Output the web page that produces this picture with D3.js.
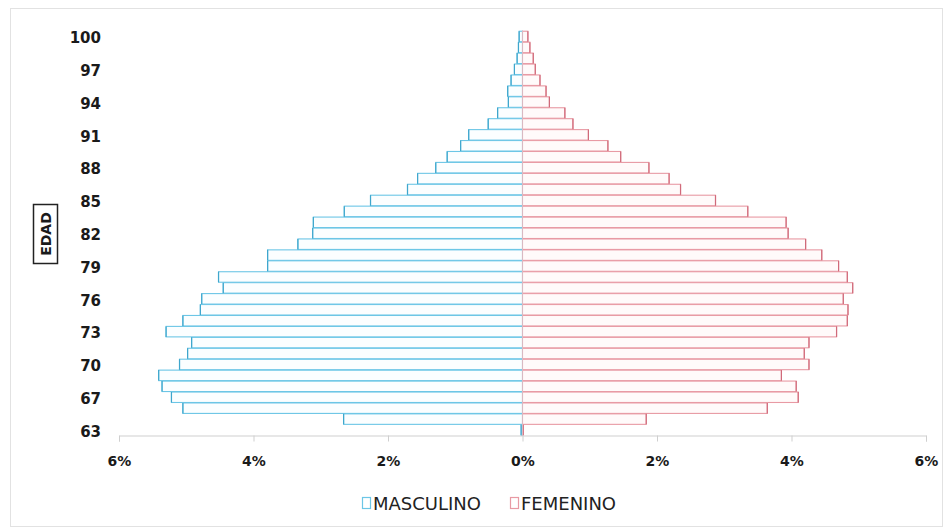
<!DOCTYPE html>
<html>
<head>
<meta charset="utf-8">
<script src="https://cdn.jsdelivr.net/npm/d3@7"></script>
<style>
  html, body { margin: 0; padding: 0; background: #ffffff; }
  svg { display: block; }
</style>
</head>
<body>
<svg id="chart" width="952" height="530"></svg>
<script>
// Age categories, bottom to top
const ages = ["63","65","66","67","68","69","70","71","72","73","74","75","76","77","78","79","80","81","82","83","84","85","86","87","88","89","90","91","92","93","94","95","96","97","98","99","100"];
// Percent of population, same order as ages
const masculino = [0.02,2.66,5.05,5.22,5.36,5.41,5.10,4.98,4.92,5.30,5.05,4.79,4.77,4.45,4.52,3.79,3.79,3.34,3.12,3.11,2.65,2.26,1.71,1.56,1.29,1.12,0.92,0.80,0.51,0.37,0.21,0.22,0.17,0.12,0.08,0.06,0.05];
const femenino  = [0.01,1.84,3.64,4.10,4.07,3.85,4.26,4.19,4.26,4.67,4.83,4.84,4.77,4.91,4.83,4.70,4.45,4.21,3.95,3.92,3.35,2.87,2.35,2.18,1.88,1.46,1.27,0.98,0.75,0.63,0.40,0.35,0.26,0.19,0.16,0.11,0.08];
const xTicks = [-6,-4,-2,0,2,4,6];
const yLabelAges = ["63","67","70","73","76","79","82","85","88","91","94","97","100"];
const seriesNames = ["MASCULINO","FEMENINO"];

const svg = d3.select("#chart");
const maleStroke = "#6cc6e6", femaleStroke = "#e89aa4";
const maleEdge = "#3fa6cc", femaleEdge = "#d06a7a";
const font = "'DejaVu Sans', Verdana, sans-serif";

// chart border
svg.append("rect").attr("x",10.5).attr("y",8.5).attr("width",932).attr("height",518)
  .attr("fill","none").attr("stroke","#e2e2e2").attr("stroke-width",1);

const x = d3.scaleLinear().domain([-6,6]).range([119,926]);
const y = d3.scaleBand().domain(ages.slice().reverse()).range([31,435.5]).paddingInner(0.04).paddingOuter(0.02);

const rows = ages.map((a,i)=>({age:a, m:masculino[i], f:femenino[i]}));

// male bars
const g = svg.append("g");
g.selectAll("rect.m").data(rows).join("rect").attr("class","m")
  .attr("x", d=>x(-d.m)).attr("y", d=>y(d.age))
  .attr("width", d=>x(0)-x(-d.m)).attr("height", y.bandwidth())
  .attr("fill","#fbfeff").attr("stroke",maleStroke).attr("stroke-width",1.1);
g.selectAll("line.me").data(rows).join("line").attr("class","me")
  .attr("x1", d=>x(-d.m)).attr("x2", d=>x(-d.m))
  .attr("y1", d=>y(d.age)).attr("y2", d=>y(d.age)+y.bandwidth())
  .attr("stroke",maleEdge).attr("stroke-width",1.2);
// female bars
g.selectAll("rect.f").data(rows).join("rect").attr("class","f")
  .attr("x", x(0)).attr("y", d=>y(d.age))
  .attr("width", d=>x(d.f)-x(0)).attr("height", y.bandwidth())
  .attr("fill","#fffafa").attr("stroke",femaleStroke).attr("stroke-width",1.1);
g.selectAll("line.fe").data(rows).join("line").attr("class","fe")
  .attr("x1", d=>x(d.f)).attr("x2", d=>x(d.f))
  .attr("y1", d=>y(d.age)).attr("y2", d=>y(d.age)+y.bandwidth())
  .attr("stroke",femaleEdge).attr("stroke-width",1.2);

// center vertical axis line
svg.append("line").attr("x1",x(0)).attr("x2",x(0)).attr("y1",31).attr("y2",435.5)
  .attr("stroke","#d9b9c2").attr("stroke-width",1);

// x axis
const xAxis = svg.append("g").attr("transform","translate(0,435.5)")
  .call(d3.axisBottom(x).tickValues(xTicks).tickSize(6).tickPadding(15)
    .tickFormat(d=>Math.abs(d)+"%"));
xAxis.select(".domain").attr("stroke","#cfcfcf");
xAxis.selectAll(".tick line").attr("stroke","#cfcfcf");
xAxis.selectAll("text").attr("font-family",font).attr("font-weight","bold")
  .attr("font-size",14).attr("fill","#1a1a1a");

// y axis labels
const yAxis = svg.append("g").attr("transform","translate(101,2)")
  .call(d3.axisLeft(y).tickValues(yLabelAges).tickSize(0).tickPadding(0));
yAxis.select(".domain").remove();
yAxis.selectAll("text").attr("font-family",font).attr("font-weight","bold")
  .attr("font-size",15).attr("fill","#1a1a1a");

// y axis title in box
svg.append("rect").attr("x",33.5).attr("y",204.5).attr("width",24).attr("height",59)
  .attr("fill","#fff").attr("stroke","#222").attr("stroke-width",1.5);
svg.append("text").attr("transform","translate(50.5,234) rotate(-90)")
  .attr("text-anchor","middle").attr("font-family",font).attr("font-weight","bold")
  .attr("font-size",14).attr("fill","#1a1a1a").text("EDAD");

// legend
const legendX = [362, 510];
const legStroke = [maleStroke, femaleStroke];
seriesNames.forEach((name,i)=>{
  svg.append("rect").attr("x",legendX[i]+0.5).attr("y",497.5).attr("width",8).attr("height",11)
    .attr("fill","#fff").attr("stroke",legStroke[i]).attr("stroke-width",1.2);
  svg.append("text").attr("x",legendX[i]+11).attr("y",509.5)
    .attr("font-family",font).attr("font-size",18).attr("fill","#222").text(name);
});
</script>
</body>
</html>
